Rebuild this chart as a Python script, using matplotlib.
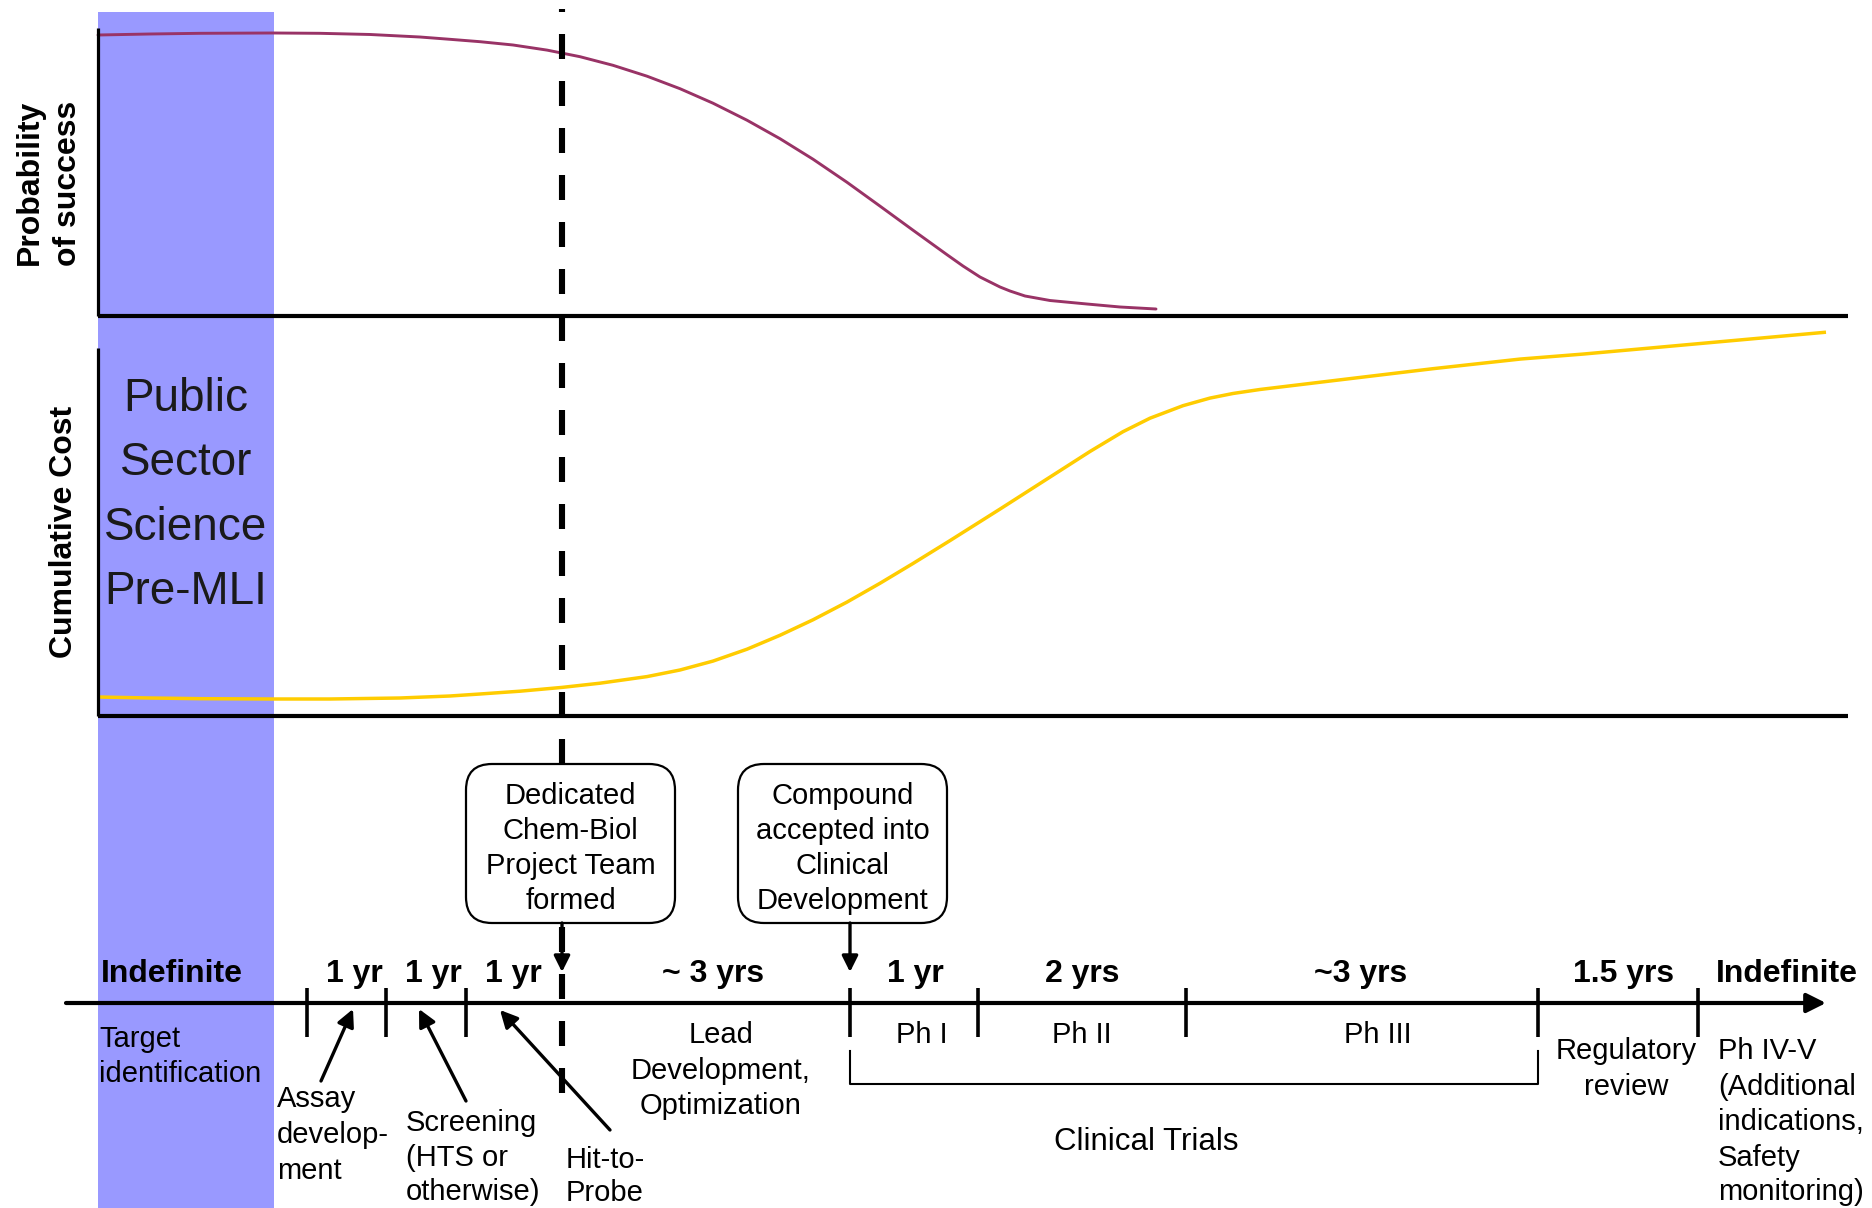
import matplotlib
matplotlib.use("Agg")
import matplotlib.pyplot as plt
from matplotlib import font_manager as fm
from matplotlib.patches import FancyBboxPatch, Rectangle

# ---------------- data ----------------
# Probability of success curve (x = horizontal position along the timeline, px; value 0..1 of panel height)
prob_x = [98, 150, 200, 273, 320, 370, 420, 450, 480, 513, 547, 580, 613, 647, 680, 713,
          747, 780, 813, 847, 880, 913, 947, 963, 980, 1000, 1010, 1025, 1050, 1087, 1120, 1156]
prob_y = [0.9756, 0.9791, 0.9815, 0.9826, 0.9815, 0.9774, 0.9686, 0.9606, 0.9523, 0.9408,
          0.9230, 0.9000, 0.8700, 0.8321, 0.7885, 0.7380, 0.6787, 0.6143, 0.5429, 0.4624,
          0.3794, 0.2955, 0.2101, 0.1707, 0.1324, 0.0976, 0.0836, 0.0662, 0.0505, 0.0383,
          0.0279, 0.0209]

# Cumulative cost curve
cost_x = [98, 150, 200, 273, 330, 400, 450, 480, 520, 562, 600, 647, 680, 713, 747, 780,
          813, 847, 880, 913, 950, 1000, 1050, 1090, 1123, 1150, 1183, 1210, 1233, 1260,
          1333, 1433, 1520, 1583, 1717, 1826]
cost_y = [0.0475, 0.045, 0.0433, 0.0425, 0.0425, 0.045, 0.05, 0.055, 0.062, 0.0715,
          0.082, 0.0985, 0.115, 0.1373, 0.167, 0.2018, 0.2405, 0.2848, 0.3318, 0.3813,
          0.4385, 0.5173, 0.5973, 0.6613, 0.7108, 0.7445, 0.7758, 0.7948, 0.8063, 0.8163,
          0.8383, 0.8683, 0.8923, 0.9048, 0.935, 0.9595]

# Timeline
tick_x = [307, 386, 466, 850, 978, 1186, 1538, 1698]
dur_labels = ["Indefinite", "1 yr", "1 yr", "1 yr", "~ 3 yrs", "1 yr", "2 yrs", "~3 yrs", "1.5 yrs", "Indefinite"]
dur_x = [172, 354, 433, 513, 713, 915, 1082, 1361, 1624, 1787]
phase_labels = ["Ph I", "Ph II", "Ph III"]
phase_x = [922, 1082, 1378]

# ---------------- figure ----------------
W, H = 1872, 1208
DPI = 100
plt.rcParams['font.family'] = ['Liberation Sans', 'DejaVu Sans']


def has_font(name):
    try:
        fm.findfont(fm.FontProperties(family=name), fallback_to_default=False)
        return True
    except Exception:
        return False


NARROW = has_font('Liberation Sans Narrow')

fig = plt.figure(figsize=(W / DPI, H / DPI), dpi=DPI)


def rect(x0, y0, x1, y1):
    return [x0 / W, 1 - y1 / H, (x1 - x0) / W, (y1 - y0) / H]


# background layer (blue band)
ax_bg = fig.add_axes([0, 0, 1, 1])
ax_bg.set_xlim(0, W)
ax_bg.set_ylim(H, 0)
ax_bg.axis('off')
ax_bg.add_patch(Rectangle((98, 12), 176, H - 12, facecolor='#9999FF', edgecolor='none'))

# curve layers
ax_p = fig.add_axes(rect(0, 28, W, 315))
ax_p.set_xlim(0, W)
ax_p.set_ylim(0, 1)
ax_p.axis('off')
ax_p.patch.set_alpha(0)
ax_p.plot(prob_x, prob_y, color='#993366', lw=2.1, solid_joinstyle='round', solid_capstyle='round')

ax_c = fig.add_axes(rect(0, 316, W, 716))
ax_c.set_xlim(0, W)
ax_c.set_ylim(0, 1)
ax_c.axis('off')
ax_c.patch.set_alpha(0)
ax_c.plot(cost_x, cost_y, color='#FFCC00', lw=2.5, solid_joinstyle='round', solid_capstyle='butt')

# overlay layer
ax = fig.add_axes([0, 0, 1, 1])
ax.set_xlim(0, W)
ax.set_ylim(H, 0)
ax.axis('off')
ax.patch.set_alpha(0)

# panel axes lines
ax.plot([98, 98], [28, 316], color='black', lw=2.3, solid_capstyle='butt')
ax.plot([98, 1848], [316, 316], color='black', lw=3.0, solid_capstyle='butt')
ax.plot([98, 98], [348, 716], color='black', lw=2.3, solid_capstyle='butt')
ax.plot([98, 1848], [716, 716], color='black', lw=3.0, solid_capstyle='butt')

# dashed milestone line
lw_d = 4.4
on_px, off_px = 25.0, 22.0
px2pt = 72.0 / DPI
ax.plot([562, 562], [9, 1100], color='black', lw=lw_d,
        linestyle=((on_px - 3) * px2pt / lw_d, (on_px * px2pt / lw_d, off_px * px2pt / lw_d)),
        solid_capstyle='butt', dash_capstyle='butt', zorder=3)

# y labels
ax.text(38, 182, "Probability", rotation=90, rotation_mode='anchor', ha='center', va='baseline',
        fontsize=23, fontweight='bold')
ax.text(76, 183, "of success", rotation=90, rotation_mode='anchor', ha='center', va='baseline',
        fontsize=23, fontweight='bold')
ax.text(72, 532, "Cumulative Cost", rotation=90, rotation_mode='anchor', ha='center', va='baseline',
        fontsize=23, fontweight='bold')

# Public Sector text
if NARROW:
    pfam, psize = ['Liberation Sans Narrow', 'DejaVu Sans'], 38
else:
    pfam, psize = ['Liberation Sans', 'DejaVu Sans'], 33
for yb, s in zip([411, 475, 540, 604], ["Public", "Sector", "Science", "Pre-MLI"]):
    ax.text(186, yb, s, ha='center', va='baseline', fontsize=psize, family=pfam, color='#1a1a1a')

# timeline
ax.annotate('', xy=(1826, 1003), xytext=(66, 1003),
            arrowprops=dict(arrowstyle='-|>', color='black', lw=3.0, mutation_scale=29,
                            shrinkA=0, shrinkB=0), zorder=4)
for tx in tick_x:
    ax.plot([tx, tx], [988, 1037], color='black', lw=2.6, solid_capstyle='butt', zorder=4)

# duration labels
for s, x in zip(dur_labels, dur_x):
    ax.text(x, 982, s, ha='center', va='baseline', fontsize=23, fontweight='bold')

# phase labels
for s, x in zip(phase_labels, phase_x):
    ax.text(x, 1043, s, ha='center', va='baseline', fontsize=21)


def lines(x, ys, strs, ha='center', size=21):
    for y, s in zip(ys, strs):
        ax.text(x, y, s, ha=ha, va='baseline', fontsize=size)


lines(99, [1047, 1082], ["Target", "identification"], ha='left')
lines(721, [1043, 1079, 1114], ["Lead", "Development,", "Optimization"])
lines(1626, [1059, 1095], ["Regulatory", "review"])
lines(1718, [1059, 1095, 1130, 1166, 1200],
      ["Ph IV-V", "(Additional", "indications,", "Safety", "monitoring)"], ha='left')
lines(277, [1107, 1143, 1179], ["Assay", "develop-", "ment"], ha='left')
lines(406, [1131, 1166, 1200], ["Screening", "(HTS or", "otherwise)"], ha='left')
lines(566, [1168, 1201], ["Hit-to-", "Probe"], ha='left')
lines(1146, [1150], ["Clinical Trials"], size=22.5)

# small arrows to timeline segments
for tail, head in [((321, 1081), (353, 1009)), ((466, 1101), (419, 1009)), ((610, 1130), (500, 1010))]:
    ax.annotate('', xy=head, xytext=tail,
                arrowprops=dict(arrowstyle='-|>', color='black', lw=2.4, mutation_scale=26,
                                shrinkA=0, shrinkB=0), zorder=4)

# clinical trials bracket
ax.plot([850, 850, 1538, 1538], [1051, 1084, 1084, 1051], color='black', lw=1.5)

# milestone boxes
for x0, x1, txt in [(466, 675, ["Dedicated", "Chem-Biol", "Project Team", "formed"]),
                    (738, 947, ["Compound", "accepted into", "Clinical", "Development"])]:
    ax.add_patch(FancyBboxPatch((x0, 764), x1 - x0, 159,
                                boxstyle='round,pad=0,rounding_size=26',
                                facecolor='white', edgecolor='black', lw=1.6, zorder=5))
    cx = (x0 + x1) / 2
    for yb, s in zip([804, 839, 874, 909], txt):
        ax.text(cx, yb, s, ha='center', va='baseline', fontsize=21, zorder=6)

for ax_x in [562, 850]:
    ax.annotate('', xy=(ax_x, 972), xytext=(ax_x, 923),
                arrowprops=dict(arrowstyle='-|>', color='black', lw=2.4, mutation_scale=24,
                                shrinkA=0, shrinkB=0), zorder=6)

fig.savefig('out.png', dpi=DPI, facecolor='white')
